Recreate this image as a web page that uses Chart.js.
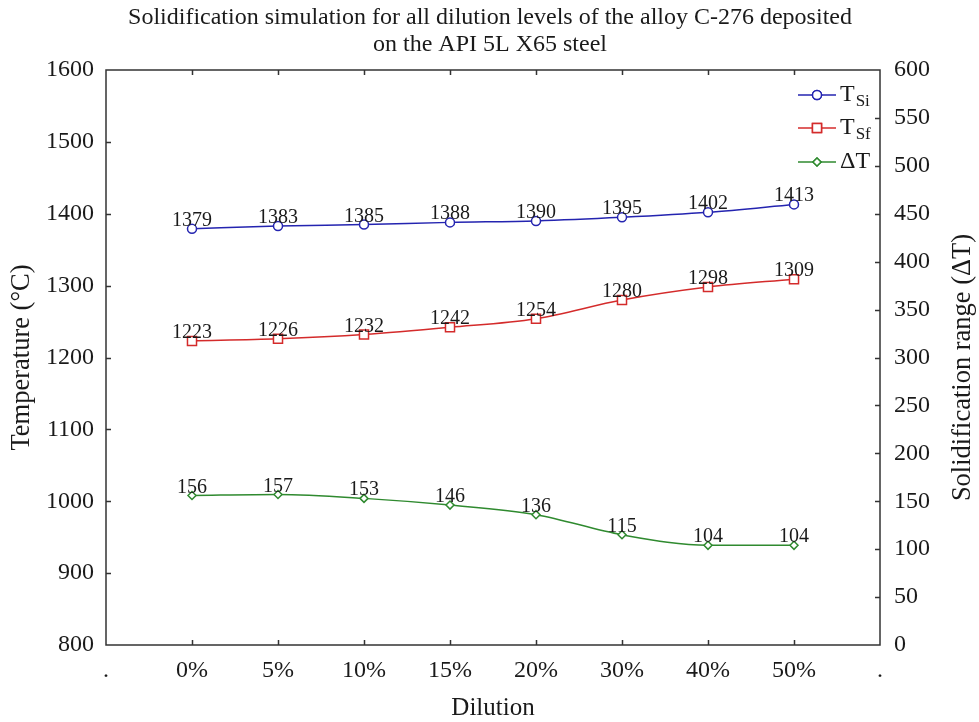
<!DOCTYPE html>
<html>
<head>
<meta charset="utf-8">
<script src="https://cdn.jsdelivr.net/npm/chart.js@4/dist/chart.umd.min.js"></script>
<style>
  html, body { margin: 0; padding: 0; background: #fff; }
  #wrap { width: 979px; height: 722px; }
</style>
</head>
<body>
<div id="wrap"><canvas id="c" width="979" height="722"></canvas></div>
<script>
// Dilution levels; the "." entries are the empty end slots of the axis
const dilution = ['.', '0%', '5%', '10%', '15%', '20%', '30%', '40%', '50%', '.'];
// Solidification start temperature T_Si (°C)
const tSi = [null, 1379, 1383, 1385, 1388, 1390, 1395, 1402, 1413, null];
// Solidification end temperature T_Sf (°C)
const tSf = [null, 1223, 1226, 1232, 1242, 1254, 1280, 1298, 1309, null];
// Solidification range ΔT (°C), right axis
const deltaT = [null, 156, 157, 153, 146, 136, 115, 104, 104, null];

const tempTicks = { min: 800, max: 1600, step: 100 };
const rangeTicks = { min: 0, max: 600, step: 50 };

const SERIF = '"Liberation Serif", "Times New Roman", serif';
const INK = '#1a1a1a';
const AXIS = '#333333';
const BLUE = '#2424b0';
const RED = '#d42b2b';
const GREEN = '#2f8a2f';

// Frame, inward tick marks, titles, value labels and legend
const decor = {
  id: 'decor',
  afterDatasetsDraw(chart) {
    const { ctx, chartArea: a, scales } = chart;
    const L = a.left, R = a.right, T = a.top, B = a.bottom;
    ctx.save();
    ctx.strokeStyle = AXIS;
    ctx.lineWidth = 1.5;
    ctx.strokeRect(L, T, R - L, B - T);
    const tl = 5;
    ctx.beginPath();
    for (let i = 1; i < dilution.length - 1; i++) {
      const x = Math.round(scales.x.getPixelForValue(i)) + 0.5;
      ctx.moveTo(x, B); ctx.lineTo(x, B - tl);
      ctx.moveTo(x, T); ctx.lineTo(x, T + tl);
    }
    for (let v = tempTicks.min + tempTicks.step; v < tempTicks.max; v += tempTicks.step) {
      const y = Math.round(scales.y.getPixelForValue(v)) + 0.5;
      ctx.moveTo(L, y); ctx.lineTo(L + tl, y);
    }
    for (let v = rangeTicks.min + rangeTicks.step; v < rangeTicks.max; v += rangeTicks.step) {
      const y = Math.round(scales.y2.getPixelForValue(v)) + 0.5;
      ctx.moveTo(R, y); ctx.lineTo(R - tl, y);
    }
    ctx.stroke();

    // value labels above each point
    ctx.fillStyle = INK;
    ctx.font = '20px ' + SERIF;
    ctx.textAlign = 'center';
    ctx.textBaseline = 'alphabetic';
    chart.data.datasets.forEach((ds, di) => {
      const meta = chart.getDatasetMeta(di);
      meta.data.forEach((pt, i) => {
        const v = ds.data[i];
        if (v === null || v === undefined) return;
        ctx.fillText(String(v), pt.x, pt.y - 3);
      });
    });

    // title
    ctx.font = '24px ' + SERIF;
    ctx.textBaseline = 'middle';
    ctx.fillText('Solidification simulation for all dilution levels of the alloy C-276 deposited', 490, 18);
    ctx.fillText('on the API 5L X65 steel', 490, 45);

    // axis titles
    ctx.font = '25px ' + SERIF;
    ctx.fillText('Dilution', (L + R) / 2, 708);
    ctx.font = '26.5px ' + SERIF;
    ctx.save();
    ctx.translate(22, (T + B) / 2);
    ctx.rotate(-Math.PI / 2);
    ctx.fillText('Temperature (°C)', 0, 0);
    ctx.restore();
    ctx.save();
    ctx.translate(963, (T + B) / 2 + 10);
    ctx.rotate(-Math.PI / 2);
    ctx.fillText('Solidification range (ΔT)', 0, 0);
    ctx.restore();

    // legend
    const rows = [
      { color: BLUE, style: 'circle', r: 4.5, main: 'T', sub: 'Si', y: 95 },
      { color: RED, style: 'rect', r: 6.4, main: 'T', sub: 'Sf', y: 128 },
      { color: GREEN, style: 'rectRot', r: 4, main: 'ΔT', sub: '', y: 162 }
    ];
    rows.forEach(row => {
      ctx.strokeStyle = row.color;
      ctx.lineWidth = 1.5;
      ctx.beginPath();
      ctx.moveTo(798, row.y); ctx.lineTo(836, row.y);
      ctx.stroke();
      ctx.fillStyle = '#fff';
      Chart.helpers.drawPoint(ctx, { pointStyle: row.style, radius: row.r, borderWidth: 1.5 }, 817, row.y);
      ctx.fill();
      ctx.stroke();
      ctx.fillStyle = INK;
      ctx.textAlign = 'left';
      ctx.textBaseline = 'middle';
      ctx.font = '24px ' + SERIF;
      ctx.fillText(row.main, 840, row.y);
      if (row.sub) {
        const w = ctx.measureText(row.main).width;
        ctx.font = '17px ' + SERIF;
        ctx.fillText(row.sub, 840 + w + 1, row.y + 7);
      }
    });
    ctx.restore();
  }
};

function series(label, data, color, style, radius, axis) {
  return {
    label, data, yAxisID: axis,
    borderColor: color, backgroundColor: '#ffffff',
    borderWidth: 1.5,
    pointStyle: style, pointRadius: radius, pointBorderWidth: 1.5,
    pointBackgroundColor: '#ffffff', pointBorderColor: color,
    cubicInterpolationMode: 'monotone',
    clip: false
  };
}

const plain = v => String(v);

new Chart(document.getElementById('c'), {
  type: 'line',
  data: {
    labels: dilution,
    datasets: [
      series('TSi', tSi, BLUE, 'circle', 4.5, 'y'),
      series('TSf', tSf, RED, 'rect', 6.4, 'y'),
      series('ΔT', deltaT, GREEN, 'rectRot', 4, 'y2')
    ]
  },
  options: {
    responsive: false,
    animation: false,
    layout: { padding: { top: 70, left: 0, right: 0, bottom: 0 } },
    plugins: { legend: { display: false }, tooltip: { enabled: false }, title: { display: false } },
    scales: {
      x: {
        type: 'category',
        offset: false,
        grid: { display: false, drawTicks: false },
        border: { display: false },
        ticks: { autoSkip: false, maxRotation: 0, padding: 11, color: INK, font: { family: SERIF, size: 24 } },
        afterFit(s) { s.height = 77; }
      },
      y: {
        position: 'left',
        min: tempTicks.min, max: tempTicks.max,
        grid: { display: false, drawTicks: false },
        border: { display: false },
        ticks: { stepSize: tempTicks.step, padding: 12, color: INK, font: { family: SERIF, size: 24 }, callback: plain },
        afterFit(s) { s.width = 106; }
      },
      y2: {
        position: 'right',
        min: rangeTicks.min, max: rangeTicks.max,
        grid: { display: false, drawTicks: false },
        border: { display: false },
        ticks: { stepSize: rangeTicks.step, padding: 14, color: INK, font: { family: SERIF, size: 24 }, callback: plain },
        afterFit(s) { s.width = 99; }
      }
    }
  },
  plugins: [decor]
});
</script>
</body>
</html>
